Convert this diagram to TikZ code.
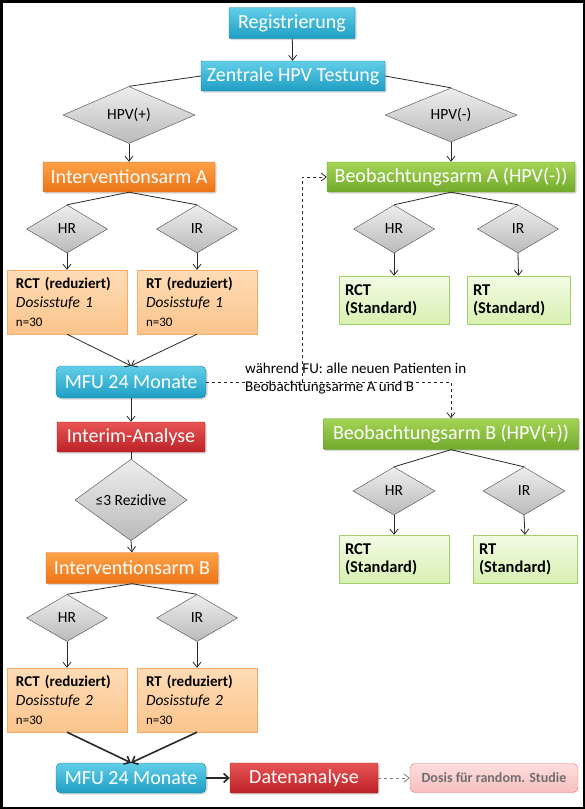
\documentclass[tikz,border=0pt]{standalone}
\usepackage{fontspec}
\setmainfont{Carlito}
\usetikzlibrary{shapes.geometric,shadows,arrows.meta}

\definecolor{blueT}{RGB}{98,206,232}
\definecolor{blueB}{RGB}{30,158,196}
\definecolor{blueD}{RGB}{28,128,162}
\definecolor{orangeT}{RGB}{255,162,72}
\definecolor{orangeB}{RGB}{236,116,22}
\definecolor{orangeD}{RGB}{214,106,20}
\definecolor{greenT}{RGB}{164,212,86}
\definecolor{greenB}{RGB}{114,170,44}
\definecolor{greenD}{RGB}{104,156,40}
\definecolor{redT}{RGB}{232,84,84}
\definecolor{redB}{RGB}{188,34,40}
\definecolor{redD}{RGB}{168,30,34}
\definecolor{grayT}{RGB}{238,238,238}
\definecolor{grayB}{RGB}{186,186,186}
\definecolor{grayD}{RGB}{70,70,70}
\definecolor{peachT}{RGB}{254,220,182}
\definecolor{peachB}{RGB}{251,196,140}
\definecolor{peachD}{RGB}{246,172,104}
\definecolor{limeT}{RGB}{242,251,228}
\definecolor{limeB}{RGB}{216,240,178}
\definecolor{limeD}{RGB}{164,208,108}
\definecolor{pinkT}{RGB}{254,222,222}
\definecolor{pinkB}{RGB}{248,190,190}
\definecolor{pinkD}{RGB}{226,112,112}
\definecolor{lineC}{RGB}{40,40,40}

\tikzset{
  boxbase/.style={draw, rectangle, rounded corners=1pt, inner sep=0pt,
    text=white, font=\fontsize{20}{22}\selectfont,
    drop shadow={opacity=0.3, shadow xshift=1.5pt, shadow yshift=-1.5pt}},
  bluebox/.style={boxbase, top color=blueT, bottom color=blueB, draw=blueD},
  mfubox/.style={bluebox, rounded corners=5pt},
  orangebox/.style={boxbase, top color=orangeT, bottom color=orangeB, draw=orangeD},
  greenbox/.style={boxbase, top color=greenT, bottom color=greenB, draw=greenD},
  redbox/.style={boxbase, top color=redT, bottom color=redB, draw=redD},
  decision/.style={diamond, draw=grayD, top color=grayT, bottom color=grayB,
    inner sep=0pt, font=\fontsize{15.5}{17}\selectfont},
  armbox/.style={draw=peachD, top color=peachT, bottom color=peachB, rectangle,
    inner xsep=9pt, inner ysep=0pt, align=left, minimum height=64pt,
    text width=102pt, font=\fontsize{15.5}{19}\selectfont},
  stdbox/.style={draw=limeD, top color=limeT, bottom color=limeB, rectangle,
    inner xsep=6pt, inner ysep=0pt, align=left, minimum height=48pt,
    font=\bfseries\fontsize{16.5}{18}\selectfont},
  resultbox/.style={draw=pinkD, top color=pinkT, bottom color=pinkB, rectangle,
    rounded corners=5pt, inner sep=0pt, text={rgb,255:red,110;green,110;blue,110},
    font=\bfseries\fontsize{14}{15}\selectfont},
  notetext/.style={align=left, inner sep=0pt, font=\fontsize{15}{18}\selectfont},
  link/.style={draw=lineC, line width=0.8pt},
  flow/.style={link, -{Straight Barb[length=5pt,width=8pt]}},
  bigflow/.style={link, line width=1.6pt, -{Straight Barb[length=5pt,width=9pt]}},
  fuflow/.style={link, dashed, -{Straight Barb[length=5pt,width=8pt]}}
}

\begin{document}
\begin{tikzpicture}[x=1pt, y=-1pt]
    \useasboundingbox (0,0) rectangle (585,809);
    % Frame
    \draw[line width=2.5pt] (1.25,1.25) rectangle (583.75,807.75);

    % Registration and HPV test
    \node[bluebox, minimum width=126pt, minimum height=31pt] (reg) at (292,23) {Registrierung};
    \node[bluebox, minimum width=184pt, minimum height=30pt] (hpvtest) at (293,76) {Zentrale HPV Testung};
    \node[decision, minimum width=132pt, minimum height=49pt] (hpvpos) at (129,115) {HPV(+)};
    \node[decision, minimum width=132pt, minimum height=49pt] (hpvneg) at (451,115) {HPV(-)};

    % Left column: Interventionsarm A
    \node[orangebox, minimum width=172pt, minimum height=30pt] (armA) at (129,177) {Interventionsarm A};
    \node[decision, minimum width=81pt, minimum height=48pt] (hrA) at (67,229) {HR};
    \node[decision, minimum width=81pt, minimum height=48pt] (irA) at (197,229) {IR};
    \node[armbox] (rctA) at (67,302) {\textbf{\fontsize{15}{19}\selectfont RCT (reduziert)}\\\textit{Dosisstufe 1}\\{\fontsize{13}{15}\selectfont n=30}};
    \node[armbox] (rtA) at (197,302) {\textbf{\fontsize{15}{19}\selectfont RT (reduziert)}\\\textit{Dosisstufe 1}\\{\fontsize{13}{15}\selectfont n=30}};
    \node[mfubox, minimum width=150pt, minimum height=32pt] (mfuA) at (131,382) {MFU 24 Monate};
    \node[redbox, minimum width=148pt, minimum height=30pt] (interim) at (131,437) {Interim-Analyse};
    \node[decision, minimum width=112pt, minimum height=66pt] (rezidive) at (131,500) {≤3 Rezidive};

    % Left column: Interventionsarm B
    \node[orangebox, minimum width=172pt, minimum height=31pt] (armB) at (132,568) {Interventionsarm B};
    \node[decision, minimum width=81pt, minimum height=47pt] (hrB) at (67,618) {HR};
    \node[decision, minimum width=81pt, minimum height=47pt] (irB) at (197,618) {IR};
    \node[armbox] (rctB) at (67,700) {\textbf{\fontsize{15}{19}\selectfont RCT (reduziert)}\\\textit{Dosisstufe 2}\\{\fontsize{13}{15}\selectfont n=30}};
    \node[armbox] (rtB) at (197,700) {\textbf{\fontsize{15}{19}\selectfont RT (reduziert)}\\\textit{Dosisstufe 2}\\{\fontsize{13}{15}\selectfont n=30}};
    \node[mfubox, minimum width=150pt, minimum height=30pt] (mfuB) at (131,778) {MFU 24 Monate};
    \node[redbox, minimum width=148pt, minimum height=30pt] (analysis) at (304,778) {Datenanalyse};
    \node[resultbox, minimum width=168pt, minimum height=29pt] (dose) at (494,778) {Dosis für random. Studie};

    % Right column: Beobachtungsarm A
    \node[greenbox, minimum width=248pt, minimum height=30pt] (obsA) at (451,177) {Beobachtungsarm A (HPV(-))};
    \node[decision, minimum width=81pt, minimum height=48pt] (hrOA) at (394,229) {HR};
    \node[decision, minimum width=81pt, minimum height=48pt] (irOA) at (518,229) {IR};
    \node[stdbox, text width=98pt] (rctOA) at (394,300) {RCT\\(Standard)};
    \node[stdbox, text width=91pt] (rtOA) at (518.5,300) {RT\\(Standard)};

    % Right column: Beobachtungsarm B
    \node[greenbox, minimum width=255pt, minimum height=31pt] (obsB) at (451,434) {Beobachtungsarm B (HPV(+))};
    \node[decision, minimum width=82pt, minimum height=48pt] (hrOB) at (394,491) {HR};
    \node[decision, minimum width=82pt, minimum height=48pt] (irOB) at (524,491) {IR};
    \node[stdbox, text width=98pt] (rctOB) at (394,559) {RCT\\(Standard)};
    \node[stdbox, text width=92pt] (rtOB) at (525,559) {RT\\(Standard)};

    % Follow-up note
    \node[notetext, anchor=west] (funote) at (245,379) {während FU: alle neuen Patienten in\\Beobachtungsarme A und B};
    \coordinate (fusplit) at (302,382);

    % Connectors
    \draw[flow] (reg) -- (hpvtest);
    \draw[link] (hpvtest.west) -- (hpvpos.north);
    \draw[link] (hpvtest.east) -- (hpvneg.north);
    \draw[flow] (hpvpos.south) -- (armA.north);
    \draw[flow] (hpvneg.south) -- (obsA.north);
    \draw[link] (armA.south) -- (hrA.north);
    \draw[link] (armA.south) -- (irA.north);
    \draw[flow] (hrA.south) -- (rctA.north);
    \draw[flow] (irA.south) -- (rtA.north);
    \draw[flow] (rctA.south) -- (mfuA.north);
    \draw[flow] (rtA.south) -- (mfuA.north);
    \draw[flow] (mfuA) -- (interim);
    \draw[link] (interim.south) -- (rezidive.north);
    \draw[flow] (rezidive.south) -- (armB.north);
    \draw[link] (armB.south) -- (hrB.north);
    \draw[link] (armB.south) -- (irB.north);
    \draw[flow] (hrB.south) -- (rctB.north);
    \draw[flow] (irB.south) -- (rtB.north);
    \draw[bigflow] (rctB.south) -- (mfuB.north);
    \draw[bigflow] (rtB.south) -- (mfuB.north);
    \draw[bigflow] (mfuB) -- (analysis);
    \draw[fuflow, draw=gray] (analysis) -- (dose);

    \draw[link] (obsA.south) -- (hrOA.north);
    \draw[link] (obsA.south) -- (irOA.north);
    \draw[flow] (hrOA.south) -- (rctOA.north);
    \draw[flow] (irOA.south) -- (rtOA.north);
    \draw[link] (obsB.south) -- (hrOB.north);
    \draw[link] (obsB.south) -- (irOB.north);
    \draw[flow] (hrOB.south) -- (rctOB.north);
    \draw[flow] (irOB.south) -- (rtOB.north);

    % Dashed follow-up paths
    \draw[link, dashed] (mfuA.east) -- (fusplit);
    \draw[fuflow] (fusplit) |- (obsA.west);
    \draw[fuflow] (fusplit) -| (obsB.north);
\end{tikzpicture}
\end{document}
